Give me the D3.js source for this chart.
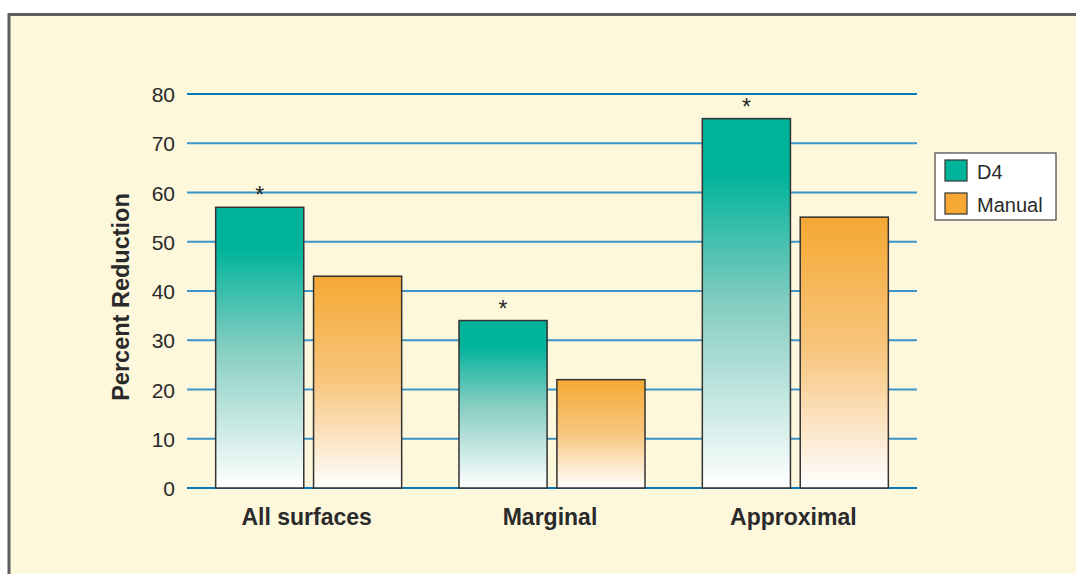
<!DOCTYPE html>
<html><head><meta charset="utf-8">
<script src="https://cdn.jsdelivr.net/npm/d3@7"></script>
<style>body{margin:0;background:#fff;}svg{display:block;}</style>
</head><body>
<svg id="c" width="1076" height="574"></svg>
<script>
const categories = ["All surfaces", "Marginal", "Approximal"];
const seriesNames = ["D4", "Manual"];
const d4Values = [57, 34, 75];
const manualValues = [43, 22, 55];
const significant = [true, true, true];
const yTicks = [0, 10, 20, 30, 40, 50, 60, 70, 80];
const yTitle = "Percent Reduction";

const svg = d3.select("#c");
const W = 1076, H = 574;
const font = "'Liberation Sans', Arial, sans-serif";

// background frame
svg.append("rect").attr("x", 9).attr("y", 14.5).attr("width", W + 10).attr("height", H)
  .attr("fill", "#fdf7db").attr("stroke", "#5e5e5e").attr("stroke-width", 3);

const x = d3.scaleBand().domain(categories).range([187, 917]).padding(0);
const y = d3.scaleLinear().domain([0, 80]).range([488, 94]);
const sub = d3.scaleBand().domain(seriesNames).range([0, 186]).paddingInner(0.1);

const defs = svg.append("defs");
const colors = {"D4": "#00b39b", "Manual": "#f5a833"};
const gradStops = {
  "D4": [[0, "#00b39b"], [0.15, "#00b39b"], [0.5, "#84cdc1"], [1, "#ffffff"]],
  "Manual": [[0, "#f5a833"], [0.5, "#f8c67f"], [1, "#ffffff"]]
};
seriesNames.forEach((s, i) => {
  const g = defs.append("linearGradient").attr("id", "g" + i)
    .attr("x1", 0).attr("y1", 0).attr("x2", 0).attr("y2", 1);
  gradStops[s].forEach(([o, c]) => g.append("stop").attr("offset", o).attr("stop-color", c));
});

// gridlines
svg.append("g").selectAll("line").data(yTicks).join("line")
  .attr("x1", 187).attr("x2", 917)
  .attr("y1", d => y(d)).attr("y2", d => y(d))
  .attr("stroke", d => (d === 80 || d === 0) ? "#0878b6" : "#3b95c6").attr("stroke-width", 2);

// tick labels
svg.append("g").selectAll("text").data(yTicks).join("text")
  .attr("x", 175).attr("y", d => y(d) + 8)
  .attr("text-anchor", "end").attr("font-family", font).attr("font-size", 21)
  .attr("fill", "#2a2a2a").text(d => d);

// bars
const data = categories.map((c, i) => ({c, vals: [d4Values[i], manualValues[i]], sig: significant[i]}));
const groups = svg.append("g").selectAll("g").data(data).join("g")
  .attr("transform", d => `translate(${x(d.c) + (x.bandwidth() - 186) / 2},0)`);

groups.selectAll("rect").data(d => d.vals.map((v, i) => ({s: seriesNames[i], v, i}))).join("rect")
  .attr("x", d => sub(d.s)).attr("width", sub.bandwidth())
  .attr("y", d => y(d.v)).attr("height", d => y(0) - y(d.v))
  .attr("fill", d => `url(#g${d.i})`).attr("stroke", "#333").attr("stroke-width", 1.5);

groups.filter(d => d.sig).append("text")
  .attr("x", sub("D4") + sub.bandwidth() / 2)
  .attr("y", d => y(d.vals[0]) - 4)
  .attr("text-anchor", "middle").attr("font-family", font).attr("font-size", 23)
  .attr("fill", "#2a2a2a").text("*");

// category labels
svg.append("g").selectAll("text").data(categories).join("text")
  .attr("x", d => x(d) + x.bandwidth() / 2 - 2).attr("y", 525)
  .attr("text-anchor", "middle").attr("font-family", font).attr("font-size", 23)
  .attr("font-weight", "bold").attr("fill", "#2a2a2a").text(d => d);

// y title
svg.append("text").attr("transform", "translate(129,297) rotate(-90)")
  .attr("text-anchor", "middle").attr("font-family", font).attr("font-size", 23.5)
  .attr("font-weight", "bold").attr("fill", "#2a2a2a").text(yTitle);

// legend
const lg = svg.append("g").attr("transform", "translate(935,153)");
lg.append("rect").attr("width", 121).attr("height", 67).attr("fill", "#fff")
  .attr("stroke", "#444").attr("stroke-width", 1.2);
seriesNames.forEach((s, i) => {
  lg.append("rect").attr("x", 10).attr("y", 7 + i * 33).attr("width", 22).attr("height", 21)
    .attr("fill", colors[s]).attr("stroke", "#333").attr("stroke-width", 1.2);
  lg.append("text").attr("x", 42).attr("y", 26 + i * 33).attr("font-family", font)
    .attr("font-size", 20).attr("fill", "#2a2a2a").text(s);
});
</script>
</body></html>
